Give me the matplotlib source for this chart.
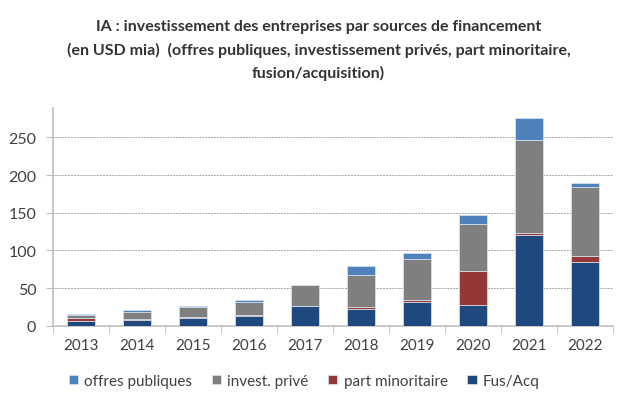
import numpy as np
import matplotlib.pyplot as plt

plt.rcParams['font.family'] = ['Lato', 'DejaVu Sans']

years = ['2013', '2014', '2015', '2016', '2017', '2018', '2019', '2020', '2021', '2022']
fus_acq = [7, 8, 10, 13, 26, 22, 32, 27, 120, 84]
part_min = [3, 0.5, 1.5, 2, 0.5, 2.5, 2, 46, 3, 8]
invest_prive = [4, 10.5, 13, 17, 27, 43, 55, 62, 124, 92]
offres_pub = [1.5, 1.5, 1.5, 2, 1.3, 12, 7, 12, 29, 6]

series = [
    ('Fus/Acq', fus_acq, '#1f497d'),
    ('part minoritaire', part_min, '#953735'),
    ('invest. privé', invest_prive, '#7f7f7f'),
    ('offres publiques', offres_pub, '#4f81bd'),
]

fig = plt.figure(figsize=(6.31, 4.02), dpi=100)
ax = fig.add_axes([0.084, 0.187, 0.8875, 0.542])

x = np.arange(len(years))
bottom = np.zeros(len(years))
handles = {}
for name, vals, col in series:
    vals = np.array(vals, dtype=float)
    b = ax.bar(x, vals, width=0.5, bottom=bottom, color=col,
               edgecolor='#dce6f2', linewidth=0.5, zorder=3)
    handles[name] = b
    bottom += vals

ax.set_xlim(-0.5, len(years) - 0.5)
ax.set_ylim(0, 289)
ax.set_yticks(range(0, 251, 50))
ax.set_xticks(x)
ax.set_xticklabels(years)
ax.set_xticks(np.arange(-0.5, len(years), 1), minor=True)

ax.yaxis.grid(True, color='#a6a6a6', linestyle=(0, (2, 1)), linewidth=0.7)
ax.set_axisbelow(True)
for s in ['top', 'right']:
    ax.spines[s].set_visible(False)
for s in ['left', 'bottom']:
    ax.spines[s].set_color('#bfbfbf')
    ax.spines[s].set_linewidth(1.2)

ax.tick_params(axis='y', length=5, color='#bfbfbf', labelsize=11.5, labelcolor='#404040', pad=7)
ax.tick_params(axis='x', which='major', length=0, labelsize=11, labelcolor='#404040', pad=9)
ax.tick_params(axis='x', which='minor', length=5, color='#bfbfbf')

order = ['offres publiques', 'invest. privé', 'part minoritaire', 'Fus/Acq']
fig.legend([handles[n] for n in order], order, loc='center', bbox_to_anchor=(0.482, 0.05),
           ncol=4, frameon=False, fontsize=11, handlelength=0.6, handleheight=0.6,
           handletextpad=0.4, columnspacing=1.3, labelcolor='#404040')

fig.text(0.505, 0.95, 'IA : investissement des entreprises par sources de financement\n'
         '(en USD mia)  (offres publiques, investissement privés, part minoritaire,\n'
         'fusion/acquisition)', ha='center', va='top', fontsize=11.5, fontweight='bold',
         color='#333333', linespacing=1.7)

fig.savefig('out.png', dpi=100)
